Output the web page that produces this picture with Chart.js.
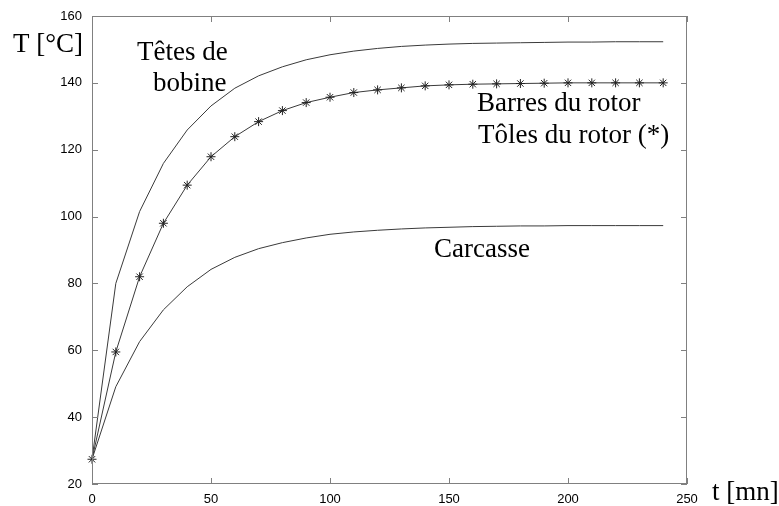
<!DOCTYPE html>
<html>
<head>
<meta charset="utf-8">
<script src="https://cdn.jsdelivr.net/npm/chart.js@4"></script>
<style>
  html, body { margin: 0; padding: 0; background: #fff; }
  #wrap { width: 779px; height: 506px; }
</style>
</head>
<body>
<div id="wrap"><canvas id="chart" width="779" height="506"></canvas></div>
<script>
// temps en minutes (un point toutes les 10 mn)
const temps = [0, 10, 20, 30, 40, 50, 60, 70, 80, 90, 100, 110, 120, 130, 140, 150, 160, 170, 180, 190, 200, 210, 220, 230, 240];

// échauffements en °C
const tetesBobine = [27.4, 80.0, 101.5, 115.9, 125.9, 133.1, 138.4, 142.1, 144.8, 146.9, 148.4, 149.5, 150.3, 150.9, 151.3, 151.6, 151.8, 151.9, 152.0, 152.1, 152.2, 152.2, 152.3, 152.3, 152.3];
const rotor = [27.4, 59.5, 82.0, 98.0, 109.4, 117.9, 123.9, 128.4, 131.7, 134.1, 135.7, 137.1, 137.9, 138.5, 139.1, 139.4, 139.6, 139.7, 139.8, 139.9, 140.0, 140.0, 140.0, 140.0, 140.0];
const carcasse = [27.4, 49.1, 62.6, 72.1, 79.0, 84.2, 87.8, 90.4, 92.2, 93.6, 94.7, 95.4, 95.9, 96.3, 96.6, 96.8, 97.0, 97.1, 97.2, 97.2, 97.3, 97.3, 97.3, 97.3, 97.3];

const xTicks = [0, 50, 100, 150, 200, 250];
const yTicks = [20, 40, 60, 80, 100, 120, 140, 160];

const textes = [
  { txt: 'T [°C]', x: 13, y: 52 },
  { txt: 'Têtes de', x: 137, y: 60 },
  { txt: 'bobine', x: 153, y: 91 },
  { txt: 'Barres du rotor', x: 477, y: 111 },
  { txt: 'Tôles du rotor (*)', x: 478, y: 143 },
  { txt: 'Carcasse', x: 434, y: 257 },
  { txt: 't [mn]', x: 712, y: 500 }
];

function points(vals) {
  return vals.map((v, i) => ({ x: temps[i], y: v }));
}

// cadre + graduations vers l'intérieur, sur les 4 côtés
const cadre = {
  id: 'cadre',
  afterDraw(chart) {
    const ctx = chart.ctx;
    const a = chart.chartArea;
    const xs = chart.scales.x, ys = chart.scales.y;
    const L = 6;
    ctx.save();
    ctx.strokeStyle = '#808080';
    ctx.lineWidth = 1;
    ctx.strokeRect(a.left + 0.5, a.top + 0.5, a.right - a.left - 1, a.bottom - a.top - 1);
    ctx.beginPath();
    xTicks.forEach(v => {
      const px = Math.round(xs.getPixelForValue(v)) + 0.5;
      ctx.moveTo(px, a.bottom); ctx.lineTo(px, a.bottom - L);
      ctx.moveTo(px, a.top); ctx.lineTo(px, a.top + L);
    });
    yTicks.forEach(v => {
      const py = Math.round(ys.getPixelForValue(v)) + 0.5;
      ctx.moveTo(a.left, py); ctx.lineTo(a.left + L, py);
      ctx.moveTo(a.right, py); ctx.lineTo(a.right - L, py);
    });
    ctx.stroke();

    ctx.fillStyle = '#000';
    ctx.font = '27px "Liberation Serif", "Times New Roman", serif';
    ctx.textBaseline = 'alphabetic';
    ctx.textAlign = 'left';
    textes.forEach(t => ctx.fillText(t.txt, t.x, t.y));
    ctx.restore();
  }
};

const ligne = {
  borderColor: '#3a3a3a',
  borderWidth: 1,
  tension: 0,
  fill: false,
  clip: false
};

new Chart(document.getElementById('chart'), {
  type: 'line',
  data: {
    datasets: [
      Object.assign({ label: 'Têtes de bobine', data: points(tetesBobine), pointRadius: 0 }, ligne),
      Object.assign({ label: 'Rotor', data: points(rotor), pointStyle: 'star', pointRadius: 4.5,
        pointBorderColor: '#222', pointBorderWidth: 1 }, ligne),
      Object.assign({ label: 'Carcasse', data: points(carcasse), pointRadius: 0 }, ligne)
    ]
  },
  options: {
    responsive: false,
    animation: false,
    layout: { padding: { top: 16, right: 92, left: 0, bottom: 0 } },
    plugins: { legend: { display: false }, tooltip: { enabled: false } },
    scales: {
      x: {
        type: 'linear', min: 0, max: 250,
        afterBuildTicks: s => { s.ticks = xTicks.map(v => ({ value: v })); },
        afterFit: s => { s.height = 22; },
        grid: { display: false },
        border: { display: false },
        ticks: { color: '#000', padding: 0, maxRotation: 0, font: { family: '"Liberation Sans", Arial', size: 13 } }
      },
      y: {
        min: 20, max: 160,
        afterBuildTicks: s => { s.ticks = yTicks.map(v => ({ value: v })); },
        afterFit: s => { s.width = 92; },
        grid: { display: false },
        border: { display: false },
        ticks: { color: '#000', padding: 2, font: { family: '"Liberation Sans", Arial', size: 13 } }
      }
    }
  },
  plugins: [cadre]
});
</script>
</body>
</html>
